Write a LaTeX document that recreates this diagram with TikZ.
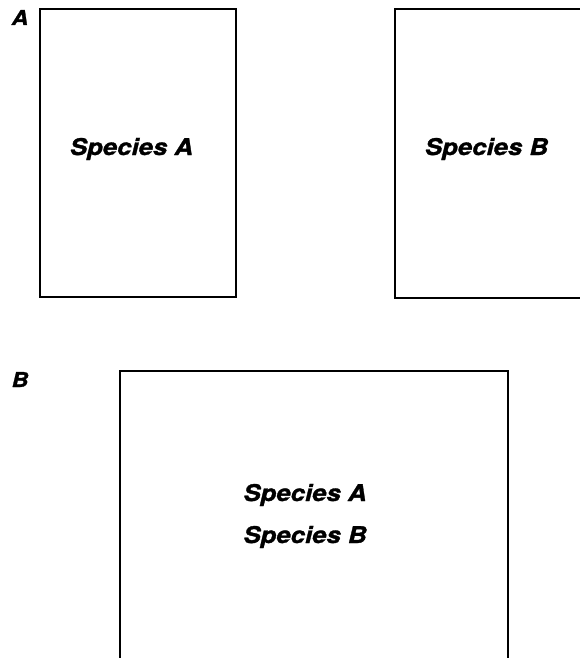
\documentclass[tikz,border=0pt]{standalone}
\usepackage{fontspec}
\usetikzlibrary{positioning}
\newfontfamily\heros[FakeStretch=1.12, FakeBold=1.3]{TeX Gyre Heros}

\begin{document}
\begin{tikzpicture}[x=1pt, y=-1pt,
		habitat/.style={draw, line width=2pt, inner sep=0pt},
		species/.style={anchor=base, font=\heros\bfseries\itshape\fontsize{23}{27}\selectfont},
		panel/.style={anchor=base, font=\heros\bfseries\itshape\fontsize{20.5}{24}\selectfont}]
		\useasboundingbox (0,0) rectangle (580,658);
		\clip (0,0) rectangle (580,658);
		% panel A: two separate habitats
		\node[habitat, minimum width=196pt, minimum height=288pt] (habA) at (138,153) {};
		\node[habitat, minimum width=225pt, minimum height=289pt] (habB) at (507.5,153.5) {};
		\node[species] (spA) at (131.5,155) {Species A};
		\node[species] (spB) at (486.5,155) {Species B};
		% panel B: one shared habitat
		\node[habitat, minimum width=388pt, minimum height=329pt] (habAB) at (314,535.5) {};
		\node[species] (spAB1) at (305,501) {Species A};
		\node[species] (spAB2) at (305,543) {Species B};
		\node[panel] (panA) at (20,25) {A};
		\node[panel] (panB) at (20,387) {B};
	\end{tikzpicture}
\end{document}
